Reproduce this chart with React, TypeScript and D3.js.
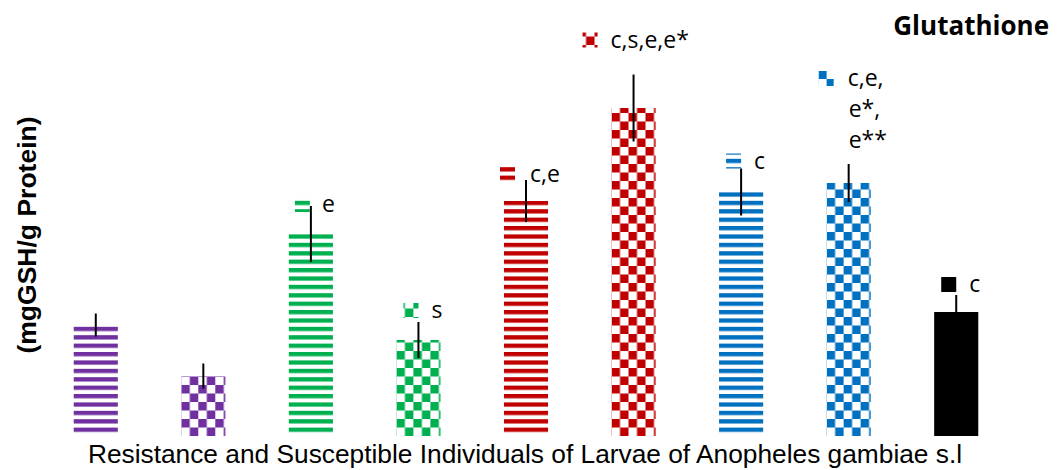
import React from "react";
import * as d3 from "d3";

// groups in plotting order
const groups = ["R1", "S1", "R2", "S2", "R3", "S3", "R4", "S4", "Control"];
const means = [1.11, 0.6, 2.02, 0.96, 2.35, 3.28, 2.44, 2.53, 1.24];
const errors = [0.115, 0.125, 0.28, 0.18, 0.21, 0.335, 0.235, 0.19, 0.17];
const colors = ["#7030A0", "#7030A0", "#00B050", "#00B050", "#C00000", "#C00000", "#0070C0", "#0070C0", "#000000"];
const fills = ["stripe", "check", "stripe", "check", "stripe", "check", "stripe", "check", "solid"];
const labels = [[], [], ["e"], ["s"], ["c,e"], ["c,s,e,e*"], ["c"], ["c,e,", "e*,", "e**"], ["c"]];

const W = 1060;
const H = 470;

export default function App() {
  const x = d3.scaleBand<string>().domain(groups).range([42, 1010]).paddingInner(0.59).paddingOuter(0.295);
  const y = d3.scaleLinear().domain([0, 4]).range([436, 36]);
  const bw = x.bandwidth();

  // annotation layout (offsets from bar centre / error-bar top)
  const labDx = [0, 0, 11, 13, 4, -23, 13, -1, 13];
  const labDy = [0, 0, 6, -4, 2, -27, 0, -78, -3];
  const markDx = [0, 0, -16, -15, -26, -51, -15, -30, -15];

  const patId = (i: number) => `p${i}`;

  return (
    <svg width={W} height={H} style={{ position: "absolute", left: 0, top: 0, background: "#fff" }}>
      <defs>
        {colors.map((c, i) =>
          fills[i] === "stripe" ? (
            <pattern key={i} id={patId(i)} patternUnits="userSpaceOnUse" width={10} height={8.4} y={436}>
              <rect x={0} y={0} width={10} height={4.3} fill={c} />
            </pattern>
          ) : fills[i] === "check" ? (
            <pattern key={i} id={patId(i)} patternUnits="userSpaceOnUse" width={17} height={17} x={x(groups[i])} y={436}>
              <rect x={0} y={0} width={8.5} height={8.5} fill={c} />
              <rect x={8.5} y={8.5} width={8.5} height={8.5} fill={c} />
            </pattern>
          ) : null
        )}
      </defs>

      {/* bars */}
      {groups.map((g, i) => (
        <rect
          key={g}
          x={x(g)}
          y={y(means[i])}
          width={bw}
          height={y(0) - y(means[i])}
          fill={fills[i] === "solid" ? colors[i] : `url(#${patId(i)})`}
        />
      ))}

      {/* error bars */}
      {groups.map((g, i) => {
        const cx = (x(g) as number) + bw / 2;
        return (
          <line key={g} x1={cx} x2={cx} y1={y(means[i] + errors[i])} y2={y(means[i] - errors[i])} stroke="#000" strokeWidth={2} />
        );
      })}

      {/* significance letters */}
      {groups.map((g, i) => {
        if (!labels[i].length) return null;
        const cx = (x(g) as number) + bw / 2;
        const base = y(means[i] + errors[i]) + labDy[i];
        return (
          <g key={g}>
            <rect
              x={cx + markDx[i]}
              y={base - 15}
              width={15}
              height={15}
              fill={fills[i] === "solid" ? colors[i] : `url(#${patId(i)})`}
            />
            <text fontFamily="Open Sans" fontSize={23} fill="#000">
              {labels[i].map((t, j) => (
                <tspan key={j} x={cx + labDx[i] + (j > 0 ? 1 : 0)} y={base + j * 31}>
                  {t}
                </tspan>
              ))}
            </text>
          </g>
        );
      })}

      <text x={1049} y={35} textAnchor="end" fontFamily="Open Sans" fontWeight="bold" fontSize={26} fill="#000">
        Glutathione
      </text>
      <text
        transform={`translate(36,235) rotate(-90)`}
        textAnchor="middle"
        fontFamily="Liberation Sans"
        fontWeight="bold"
        fontSize={26.5}
        fill="#000"
      >
        (mgGSH/g Protein)
      </text>
      <text x={525} y={463} textAnchor="middle" fontFamily="Liberation Sans" fontSize={26.3} fill="#000">
        Resistance and Susceptible Individuals of Larvae of Anopheles gambiae s.l
      </text>
    </svg>
  );
}
